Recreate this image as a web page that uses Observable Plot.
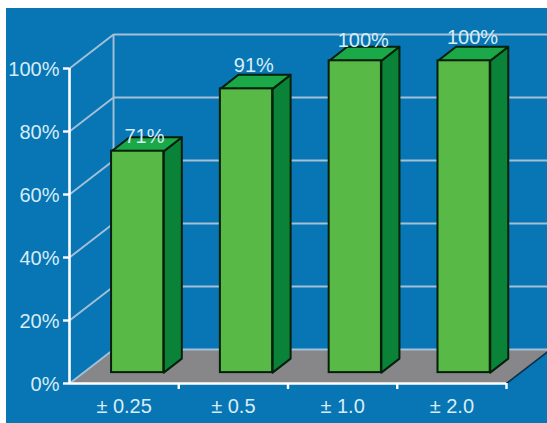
<!DOCTYPE html>
<html>
<head>
<meta charset="utf-8">
<script src="https://cdn.jsdelivr.net/npm/d3@7"></script>
<script src="https://cdn.jsdelivr.net/npm/@observablehq/plot@0.6"></script>
<style>
  html, body { margin: 0; padding: 0; background: #fff; overflow: hidden; }
  #chart { position: absolute; left: 6px; top: 8px; width: 541px; height: 415px; background: #0875b5; overflow: hidden; }
</style>
</head>
<body>
<div id="chart"></div>
<script>
// Share of readings within each tolerance band
const categories = ["± 0.25", "± 0.5", "± 1.0", "± 2.0"];
const values = [71, 91, 100, 100];
const yTicks = [0, 20, 40, 60, 80, 100];
const xTicks = [1, 2, 3, 4];

// Oblique projection, in scale units: one category is 1 on x, one percent is 1 on y
const wallDx = 0.403, wallDy = 10.8;   // floor front edge to back wall
const barDx = 0.165, barDy = 4.45;     // depth of a single bar
const barLeft = 0.385, barPitch = 0.996, barWidth = 0.478, barBase = 3.45, barScale = 0.99;
const labelShift = [-0.02, -0.015, -0.01, -0.005]; // sideways nudge so labels sit over the top faces
const labelLift = [3.6, 6.3, 5.4, 6.4];

const bars = categories.map((name, i) => {
  const x1 = i * barPitch + barLeft, x2 = x1 + barWidth;
  const top = barBase + values[i] * barScale;
  return {name, value: values[i], i, x1, x2, top};
});

const poly = (points) => points.map(([x, y]) => ({x, y}));
const sideFaces = bars.flatMap((b) => poly([
  [b.x2, barBase], [b.x2 + barDx, barBase + barDy], [b.x2 + barDx, b.top + barDy], [b.x2, b.top]
]).map((p) => ({...p, id: b.i})));
const topFaces = bars.flatMap((b) => poly([
  [b.x1, b.top], [b.x1 + barDx, b.top + barDy], [b.x2 + barDx, b.top + barDy], [b.x2, b.top]
]).map((p) => ({...p, id: b.i})));
const floor = poly([[0, 0], [wallDx, wallDy], [4 + wallDx, wallDy], [4, 0]]);

const ink = "#051f0b", gridColor = "#a3c1d6", labelColor = "#d6edf6";

const chart = Plot.plot({
  width: 541,
  height: 415,
  marginLeft: 63,
  marginRight: 41,
  marginTop: 60,
  marginBottom: 40,
  style: {background: "transparent", fontFamily: "'Liberation Sans', Arial, sans-serif", overflow: "visible"},
  x: {domain: [0, 4], axis: null},
  y: {domain: [0, 100], axis: null},
  marks: [
    // Floor
    Plot.line(floor, {x: "x", y: "y", fill: "#87878a", stroke: "none", curve: "linear-closed"}),
    // Back wall and side wall grid
    Plot.link(yTicks, {x1: wallDx, x2: 4 + wallDx + 0.1, y1: (d) => d + wallDy, y2: (d) => d + wallDy, stroke: gridColor, strokeWidth: 1.9}),
    Plot.link(yTicks, {x1: 0, x2: wallDx, y1: (d) => d, y2: (d) => d + wallDy, stroke: gridColor, strokeWidth: 1.9}),
    Plot.ruleX([wallDx], {y1: wallDy, y2: 100 + wallDy, stroke: gridColor, strokeWidth: 1.9}),
    // Dark right edge of the floor
    Plot.link([0], {x1: 4, x2: 4 + wallDx, y1: 0, y2: wallDy, stroke: "#0a2f4a", strokeWidth: 1.6}),
    // Axes
    Plot.ruleX([0], {y1: 0, y2: 100, stroke: "#fff", strokeWidth: 2.6}),
    Plot.ruleY([0], {x1: 0, x2: 4, stroke: "#fff", strokeWidth: 2.6}),
    Plot.axisY({ticks: yTicks, text: null, tickSize: 6, stroke: "#fff", strokeWidth: 2.4}),
    Plot.axisX({ticks: xTicks, text: null, tickSize: 6, stroke: "#fff", strokeWidth: 2.4}),
    Plot.text(yTicks, {x: 0, y: (d) => d, text: (d) => d + "%", textAnchor: "end", dx: -10, dy: 1, fill: labelColor, fontSize: 20}),
    // Bars: side, top and front faces
    Plot.line(sideFaces, {x: "x", y: "y", z: "id", fill: "#0a8238", stroke: ink, strokeWidth: 2, curve: "linear-closed"}),
    Plot.line(topFaces, {x: "x", y: "y", z: "id", fill: "#1aa849", stroke: ink, strokeWidth: 2, curve: "linear-closed"}),
    Plot.rect(bars, {x1: "x1", x2: "x2", y1: barBase, y2: "top", fill: "#58b947", stroke: ink, strokeWidth: 2}),
    // Value and category labels
    Plot.text(bars, {x: (d) => (d.x1 + d.x2) / 2 + barDx / 2 + labelShift[d.i], y: (d) => d.top + labelLift[d.i], text: (d) => d.value + "%", fill: labelColor, fontSize: 20, lineAnchor: "bottom", dy: 3}),
    Plot.text(bars, {x: (d) => d.i + 0.5, y: 0, text: "name", fill: labelColor, fontSize: 20, dy: 23})
  ]
});
document.getElementById("chart").appendChild(chart);
</script>
</body>
</html>
